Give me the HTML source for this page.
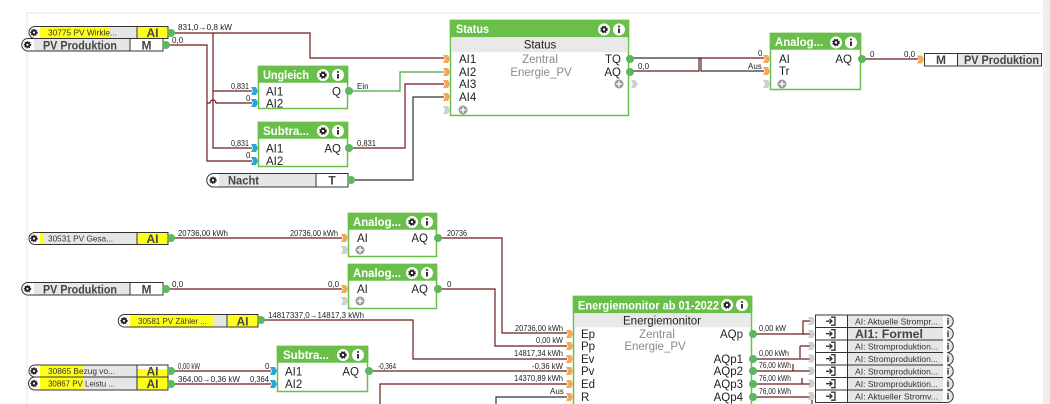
<!DOCTYPE html>
<html><head><meta charset="utf-8">
<style>
html,body{margin:0;padding:0;background:#fff;width:1050px;height:404px;overflow:hidden;}
svg{display:block;overflow:hidden;font-family:"Liberation Sans",Arial,sans-serif;}
.t{font-size:11.5px;fill:#222;}
.h{font-size:12px;font-weight:bold;fill:#fff;}
.w{font-size:8px;fill:#222;}
.g{font-size:11.5px;fill:#8a8a8a;}
.nl{font-size:8.5px;fill:#333;}
.nb{font-size:12px;font-weight:bold;fill:#444;}
.wr{fill:none;stroke:#6e1c1c;stroke-width:1.2;}
.wk{fill:none;stroke:#333;stroke-width:1.2;}
.wg{fill:none;stroke:#3faa3f;stroke-width:1.2;}
.blk{fill:#fff;stroke:#6abf4b;stroke-width:1.5;}
.hd{fill:#6abf4b;}
.dot{fill:#5cb85c;}
.om{fill:#f5a75a;}
.bm{fill:#2aa6d8;}
.gm{fill:#cfcfcf;}
</style></head>
<body>
<svg width="1050" height="404" viewBox="0 0 1050 404" xmlns="http://www.w3.org/2000/svg">
<defs>
  <g id="gearW"><circle r="6" fill="#fff"/><circle r="3" fill="#222" stroke="#222" stroke-width="1.6" stroke-dasharray="1.3 1.1"/><circle r="1.2" fill="#fff"/></g>
  <g id="infoW"><circle r="6" fill="#fff"/><rect x="-0.9" y="-1" width="1.8" height="4.5" fill="#222"/><circle cy="-3" r="1" fill="#222"/></g>
  <g id="gearS"><circle r="3" fill="#222" stroke="#222" stroke-width="1.4" stroke-dasharray="1.2 1"/><circle r="1.1" fill="#fff"/></g>
  <g id="plus"><circle r="4.5" fill="#9a9a9a"/><rect x="-2.8" y="-0.7" width="5.6" height="1.4" fill="#fff"/><rect x="-0.7" y="-2.8" width="1.4" height="5.6" fill="#fff"/></g>
  <polygon id="inm" points="-7,-4 -2,-4 0,0 -2,4 -7,4 -5,0"/>
  <g id="enter"><path d="M-1,-4 h4 v8 h-4" fill="none" stroke="#333" stroke-width="1.3"/><path d="M-6,0 h6 M-2.5,-2.5 l2.5,2.5 l-2.5,2.5" fill="none" stroke="#333" stroke-width="1.3"/></g>
</defs>

<!-- background border -->
<line x1="27" y1="13" x2="1043" y2="13" stroke="#d0d0d0" stroke-width="1" stroke-dasharray="1 1"/>
<line x1="27" y1="13" x2="27" y2="404" stroke="#d0d0d0" stroke-width="1" stroke-dasharray="1 1"/>
<rect x="1043" y="0" width="7" height="404" fill="#eeeeee"/>

<!-- ===== WIRES TOP ===== -->
<path class="wr" d="M172 33 H310 V58 H444"/>
<path class="wr" d="M213 33 V148 H252 M213 91 H252"/>
<path class="wr" d="M167 45 H207 V161 H252 M207 103 H210 A3 3 0 0 1 216 103 H252"/>
<path class="wg" d="M352 91 H400 V72 H444"/>
<path class="wr" d="M352 148 H405 V84 H444"/>
<path class="wk" d="M354 180 H413 V97 H444"/>
<path class="wk" d="M633 58 H701 V71 H764"/>
<path class="wr" d="M633 71 H699 V58 H764"/>
<path class="wr" d="M865 59 H918"/>

<!-- ===== WIRES BOTTOM ===== -->
<path class="wr" d="M172 238 H342"/>
<path class="wr" d="M167 289 H342"/>
<path class="wr" d="M262 320 H413 V359 H567"/>
<path class="wr" d="M441 238 H502 V333 H567"/>
<path class="wr" d="M441 289 H495 V346 H567"/>
<path class="wr" d="M172 371 H271"/>
<path class="wr" d="M172 384 H271"/>
<path class="wr" d="M372 371 H567"/>
<path class="wr" d="M380 404 V384 H567"/>
<path class="wk" d="M496 404 V397 H567"/>
<!-- outputs to right nodes -->
<path class="wr" d="M756 334 H810 M803 334 V321 H810"/>
<path class="wr" d="M800 346 H810 M800 346 V358"/>
<path class="wr" d="M756 359 H810"/>
<path class="wr" d="M756 371 H793 V364 M793 371 H810"/>
<path class="wr" d="M756 384 H810 M802 384 V378"/>
<path class="wr" d="M756 397 H810 M812 396 V404"/>

<!-- ===== WIRE LABELS ===== -->
<text class="w" x="178" y="30" textLength="54" lengthAdjust="spacingAndGlyphs">831,0→0,8 kW</text>
<text class="w" x="172" y="43">0,0</text>
<text class="w" x="231" y="89" textLength="18" lengthAdjust="spacingAndGlyphs">0,831</text>
<text class="w" x="246" y="101">0</text>
<text class="w" x="231" y="146" textLength="18" lengthAdjust="spacingAndGlyphs">0,831</text>
<text class="w" x="246" y="158">0</text>
<text class="w" x="357" y="89">Ein</text>
<text class="w" x="357" y="146" textLength="19" lengthAdjust="spacingAndGlyphs">0,831</text>
<text class="w" x="638" y="69">0,0</text>
<text class="w" x="758" y="56">0</text>
<text class="w" x="748" y="69">Aus</text>
<text class="w" x="870" y="57">0</text>
<text class="w" x="904" y="57">0,0</text>

<text class="w" x="178" y="236" textLength="50" lengthAdjust="spacingAndGlyphs">20736,00 kWh</text>
<text class="w" x="290" y="236" textLength="48" lengthAdjust="spacingAndGlyphs">20736,00 kWh</text>
<text class="w" x="447" y="236" textLength="20" lengthAdjust="spacingAndGlyphs">20736</text>
<text class="w" x="172" y="287">0,0</text>
<text class="w" x="328" y="287">0,0</text>
<text class="w" x="447" y="287">0</text>
<text class="w" x="268" y="318" textLength="96" lengthAdjust="spacingAndGlyphs">14817337,0→14817,3 kWh</text>
<text class="w" x="178" y="369" textLength="22" lengthAdjust="spacingAndGlyphs">0,00 kW</text>
<text class="w" x="265" y="369">0</text>
<text class="w" x="178" y="382" textLength="62" lengthAdjust="spacingAndGlyphs">364,00→0,36 kW</text>
<text class="w" x="250" y="382" textLength="19" lengthAdjust="spacingAndGlyphs">0,364</text>
<text class="w" x="378" y="369" textLength="18" lengthAdjust="spacingAndGlyphs">-0,364</text>
<text class="w" x="515" y="331" textLength="48" lengthAdjust="spacingAndGlyphs">20736,00 kWh</text>
<text class="w" x="536" y="343" textLength="27" lengthAdjust="spacingAndGlyphs">0,00 kW</text>
<text class="w" x="514" y="356" textLength="49" lengthAdjust="spacingAndGlyphs">14817,34 kWh</text>
<text class="w" x="532" y="369" textLength="31" lengthAdjust="spacingAndGlyphs">-0,36 kW</text>
<text class="w" x="514" y="381" textLength="49" lengthAdjust="spacingAndGlyphs">14370,89 kWh</text>
<text class="w" x="550" y="394">Aus</text>
<text class="w" x="759" y="331" textLength="27" lengthAdjust="spacingAndGlyphs">0,00 kW</text>
<text class="w" x="759" y="356" textLength="30" lengthAdjust="spacingAndGlyphs">0,00 kWh</text>
<text class="w" x="759" y="368" textLength="32" lengthAdjust="spacingAndGlyphs">76,00 kWh</text>
<text class="w" x="759" y="381" textLength="32" lengthAdjust="spacingAndGlyphs">76,00 kWh</text>
<text class="w" x="759" y="394" textLength="32" lengthAdjust="spacingAndGlyphs">76,00 kWh</text>

<!-- ===== LEFT NODES ===== -->
<!-- 30775 -->
<path d="M35 26.5 H168 V38.5 H35 A6 6 0 0 1 35 26.5 Z" fill="#fff" stroke="#333"/>
<rect x="40" y="27" width="97" height="11" fill="#e6e6e6"/>
<rect x="40" y="27" width="70" height="11" fill="#ffff1a"/>
<rect x="137" y="26.5" width="31" height="12" fill="#ffff1a" stroke="#333"/>
<use href="#gearS" x="34" y="32.5"/>
<text class="nl" x="48" y="35.5" textLength="69" lengthAdjust="spacingAndGlyphs">30775  PV  Wirkle...</text>
<text class="nb" x="152.5" y="37" text-anchor="middle">AI</text>
<circle class="dot" cx="171" cy="33" r="4"/>
<!-- PV Produktion M -->
<path d="M28 38.5 H163 V51 H28 A6.25 6.25 0 0 1 28 38.5 Z" fill="#fff" stroke="#333"/>
<rect x="34" y="39" width="96" height="11.5" fill="#e6e6e6"/>
<rect x="130" y="38.5" width="33" height="12.5" fill="#fff" stroke="#333"/>
<use href="#gearS" x="27.5" y="44.8"/>
<text class="nb" x="43" y="49.3" textLength="74" lengthAdjust="spacingAndGlyphs">PV Produktion</text>
<text class="nb" x="146.5" y="49.3" text-anchor="middle">M</text>
<circle class="dot" cx="166" cy="45" r="4"/>
<!-- Nacht T -->
<path d="M213.5 173.5 H348 V187 H213.5 A6.75 6.75 0 0 1 213.5 173.5 Z" fill="#fff" stroke="#333"/>
<rect x="219" y="174" width="97" height="12.5" fill="#e6e6e6"/>
<rect x="316" y="173.5" width="32" height="13.5" fill="#fff" stroke="#333"/>
<use href="#gearS" x="213" y="180.2"/>
<text class="nb" x="228" y="184.6" textLength="31" lengthAdjust="spacingAndGlyphs">Nacht</text>
<text class="nb" x="332" y="184.6" text-anchor="middle">T</text>
<circle class="dot" cx="351" cy="180" r="4"/>

<!-- 30531 -->
<path d="M35 232.5 H168 V244.5 H35 A6 6 0 0 1 35 232.5 Z" fill="#fff" stroke="#333"/>
<rect x="40" y="233" width="97" height="11" fill="#e6e6e6"/>
<rect x="40" y="233" width="3" height="11" fill="#ffff1a"/>
<rect x="137" y="232.5" width="31" height="12" fill="#ffff1a" stroke="#333"/>
<use href="#gearS" x="34" y="238.5"/>
<text class="nl" x="48" y="241.5" textLength="65" lengthAdjust="spacingAndGlyphs">30531  PV  Gesa...</text>
<text class="nb" x="152.5" y="243" text-anchor="middle">AI</text>
<circle class="dot" cx="171" cy="238" r="4"/>
<!-- PV Produktion M bottom -->
<path d="M28 282.5 H163 V295 H28 A6.25 6.25 0 0 1 28 282.5 Z" fill="#fff" stroke="#333"/>
<rect x="34" y="283" width="96" height="11.5" fill="#e6e6e6"/>
<rect x="130" y="282.5" width="33" height="12.5" fill="#fff" stroke="#333"/>
<use href="#gearS" x="27.5" y="288.8"/>
<text class="nb" x="43" y="293.3" textLength="74" lengthAdjust="spacingAndGlyphs">PV Produktion</text>
<text class="nb" x="146.5" y="293.3" text-anchor="middle">M</text>
<circle class="dot" cx="166" cy="289" r="4"/>
<!-- 30581 -->
<path d="M124.5 314.5 H258 V327 H124.5 A6.25 6.25 0 0 1 124.5 314.5 Z" fill="#fff" stroke="#333"/>
<rect x="130" y="315" width="97" height="11.5" fill="#e6e6e6"/>
<rect x="130" y="315" width="83" height="11.5" fill="#ffff1a"/>
<rect x="227" y="314.5" width="31" height="12.5" fill="#ffff1a" stroke="#333"/>
<use href="#gearS" x="124" y="320.8"/>
<text class="nl" x="138" y="323.8" textLength="69" lengthAdjust="spacingAndGlyphs">30581  PV  Zähler ...</text>
<text class="nb" x="242.5" y="325.3" text-anchor="middle">AI</text>
<circle class="dot" cx="261" cy="320" r="4"/>
<!-- 30865 -->
<path d="M35 365 H168 V377 H35 A6 6 0 0 1 35 365 Z" fill="#fff" stroke="#333"/>
<rect x="40" y="365.5" width="97" height="11" fill="#e6e6e6"/>
<rect x="40" y="365.5" width="43" height="11" fill="#ffff1a"/>
<rect x="137" y="365" width="31" height="12" fill="#fff" stroke="#333"/>
<rect x="137.5" y="369" width="30" height="7.5" fill="#ffff1a"/>
<use href="#gearS" x="34" y="371"/>
<text class="nl" x="48" y="374" textLength="67" lengthAdjust="spacingAndGlyphs">30865  Bezug  vo...</text>
<text class="nb" x="152.5" y="375.5" text-anchor="middle">AI</text>
<circle class="dot" cx="171" cy="371" r="4"/>
<!-- 30867 -->
<path d="M35 377 H168 V390 H35 A6.5 6.5 0 0 1 35 377 Z" fill="#fff" stroke="#333"/>
<rect x="40" y="377.5" width="97" height="12" fill="#e6e6e6"/>
<rect x="40" y="377.5" width="43" height="12" fill="#ffff1a"/>
<rect x="137" y="377" width="31" height="13" fill="#ffff1a" stroke="#333"/>
<use href="#gearS" x="34" y="383.5"/>
<text class="nl" x="48" y="386.5" textLength="67" lengthAdjust="spacingAndGlyphs">30867  PV  Leistu ...</text>
<text class="nb" x="152.5" y="388" text-anchor="middle">AI</text>
<circle class="dot" cx="171" cy="384" r="4"/>

<!-- ===== BLOCK: Ungleich ===== -->
<rect class="blk" x="258.5" y="66.5" width="89" height="42"/>
<rect class="hd" x="257.75" y="65.75" width="90.5" height="17"/>
<text class="h" x="263" y="79" textLength="46" lengthAdjust="spacingAndGlyphs">Ungleich</text>
<use href="#gearW" x="323" y="75"/><use href="#infoW" x="338" y="75"/>
<use href="#inm" class="bm" x="258" y="91"/><use href="#inm" class="bm" x="258" y="103"/>
<text class="t" x="266" y="95.5">AI1</text><text class="t" x="266" y="107.5">AI2</text>
<text class="t" x="341" y="95.5" text-anchor="end">Q</text>
<circle class="dot" cx="349" cy="91" r="4"/>

<!-- ===== BLOCK: Subtra top ===== -->
<rect class="blk" x="258.5" y="122.5" width="89" height="44"/>
<rect class="hd" x="257.75" y="121.75" width="90.5" height="17"/>
<text class="h" x="263" y="135" textLength="46" lengthAdjust="spacingAndGlyphs">Subtra...</text>
<use href="#gearW" x="323" y="131"/><use href="#infoW" x="338" y="131"/>
<use href="#inm" class="bm" x="258" y="148"/><use href="#inm" class="bm" x="258" y="161"/>
<text class="t" x="266" y="152.5">AI1</text><text class="t" x="266" y="165">AI2</text>
<text class="t" x="341" y="152.5" text-anchor="end">AQ</text>
<circle class="dot" cx="349" cy="148" r="4"/>

<!-- ===== BLOCK: Status ===== -->
<rect class="blk" x="450.5" y="20.5" width="178" height="95"/>
<rect class="hd" x="449.75" y="19.75" width="179.5" height="17.5"/>
<text class="h" x="456" y="33" textLength="33" lengthAdjust="spacingAndGlyphs">Status</text>
<use href="#gearW" x="604" y="29.5"/><use href="#infoW" x="619" y="29.5"/>
<rect x="451.25" y="37.25" width="176.5" height="15" fill="#e9e9e9"/>
<text class="t" x="540" y="48.5" text-anchor="middle">Status</text>
<use href="#inm" class="om" x="450" y="59"/><use href="#inm" class="om" x="450" y="72"/>
<use href="#inm" class="om" x="450" y="84"/><use href="#inm" class="om" x="450" y="97"/>
<use href="#inm" class="gm" x="450" y="110"/>
<text class="t" x="459" y="63">AI1</text><text class="t" x="459" y="76">AI2</text>
<text class="t" x="459" y="88">AI3</text><text class="t" x="459" y="101">AI4</text>
<use href="#plus" x="463" y="110"/>
<text class="g" x="540" y="63" text-anchor="middle">Zentral</text>
<text class="g" x="541" y="76" text-anchor="middle">Energie_PV</text>
<text class="t" x="621" y="63" text-anchor="end">TQ</text>
<text class="t" x="621" y="76" text-anchor="end">AQ</text>
<circle class="dot" cx="630" cy="59" r="4"/><circle class="dot" cx="630" cy="72" r="4"/>
<use href="#plus" x="619" y="84"/>
<polygon class="gm" points="631,80 635,80 638,84 635,88 631,88 633,84"/>

<!-- ===== BLOCK: Analog top right ===== -->
<rect class="blk" x="770.5" y="33.5" width="90" height="56"/>
<rect class="hd" x="769.75" y="32.75" width="91.5" height="17"/>
<text class="h" x="775" y="46" textLength="48" lengthAdjust="spacingAndGlyphs">Analog...</text>
<use href="#gearW" x="836" y="42.5"/><use href="#infoW" x="851" y="42.5"/>
<use href="#inm" class="om" x="770" y="59"/><use href="#inm" class="om" x="770" y="71"/>
<use href="#inm" class="gm" x="770" y="84"/>
<text class="t" x="779" y="63">AI</text><text class="t" x="779" y="75">Tr</text>
<use href="#plus" x="782" y="84"/>
<text class="t" x="852" y="63" text-anchor="end">AQ</text>
<circle class="dot" cx="862" cy="59" r="4"/>
<!-- output node M PV Produktion -->
<use href="#inm" class="om" x="924" y="59.5"/>
<rect x="924.5" y="53.5" width="117" height="12.5" fill="#e6e6e6" stroke="#333"/>
<rect x="924.5" y="53.5" width="33" height="12.5" fill="#fff" stroke="#333"/>
<text class="nb" x="941" y="64" text-anchor="middle">M</text>
<text class="nb" x="964" y="64" textLength="75" lengthAdjust="spacingAndGlyphs">PV Produktion</text>

<!-- ===== BLOCK: Analog bottom 1 ===== -->
<rect class="blk" x="348.5" y="213.5" width="88" height="43"/>
<rect class="hd" x="347.75" y="212.75" width="89.5" height="17"/>
<text class="h" x="353" y="226" textLength="48" lengthAdjust="spacingAndGlyphs">Analog...</text>
<use href="#gearW" x="412" y="222"/><use href="#infoW" x="427" y="222"/>
<use href="#inm" class="om" x="348" y="238"/><use href="#inm" class="gm" x="348" y="250"/>
<text class="t" x="357" y="242">AI</text>
<use href="#plus" x="360" y="250"/>
<text class="t" x="428" y="242" text-anchor="end">AQ</text>
<circle class="dot" cx="438" cy="238" r="4"/>

<!-- ===== BLOCK: Analog bottom 2 ===== -->
<rect class="blk" x="348.5" y="264.5" width="88" height="44"/>
<rect class="hd" x="347.75" y="263.75" width="89.5" height="17"/>
<text class="h" x="353" y="277" textLength="48" lengthAdjust="spacingAndGlyphs">Analog...</text>
<use href="#gearW" x="412" y="273"/><use href="#infoW" x="427" y="273"/>
<use href="#inm" class="om" x="348" y="289"/><use href="#inm" class="gm" x="348" y="301"/>
<text class="t" x="357" y="293">AI</text>
<use href="#plus" x="360" y="301"/>
<text class="t" x="428" y="293" text-anchor="end">AQ</text>
<circle class="dot" cx="438" cy="289" r="4"/>

<!-- ===== BLOCK: Subtra bottom ===== -->
<rect class="blk" x="277.5" y="346.5" width="90" height="45"/>
<rect class="hd" x="276.75" y="345.75" width="91.5" height="17"/>
<text class="h" x="283" y="359" textLength="46" lengthAdjust="spacingAndGlyphs">Subtra...</text>
<use href="#gearW" x="343" y="355"/><use href="#infoW" x="358" y="355"/>
<use href="#inm" class="bm" x="277" y="371"/><use href="#inm" class="bm" x="277" y="384"/>
<text class="t" x="285" y="375.5">AI1</text><text class="t" x="285" y="388">AI2</text>
<text class="t" x="359" y="375.5" text-anchor="end">AQ</text>
<circle class="dot" cx="369" cy="371" r="4"/>

<!-- ===== BLOCK: Energiemonitor ===== -->
<rect class="blk" x="573.5" y="296.5" width="178" height="120"/>
<rect class="hd" x="572.75" y="295.75" width="179.5" height="17.5"/>
<text class="h" x="578" y="309.5" textLength="141" lengthAdjust="spacingAndGlyphs">Energiemonitor ab 01-2022</text>
<use href="#gearW" x="727" y="305"/><use href="#infoW" x="742" y="305"/>
<rect x="574.25" y="313.25" width="176.5" height="14" fill="#e9e9e9"/>
<text class="t" x="662" y="324.5" text-anchor="middle">Energiemonitor</text>
<use href="#inm" class="om" x="573" y="334"/><use href="#inm" class="om" x="573" y="346"/>
<use href="#inm" class="om" x="573" y="359"/><use href="#inm" class="om" x="573" y="371"/>
<use href="#inm" class="om" x="573" y="384"/><use href="#inm" class="om" x="573" y="397"/>
<text class="t" x="581" y="338">Ep</text><text class="t" x="581" y="350">Pp</text>
<text class="t" x="581" y="363">Ev</text><text class="t" x="581" y="375">Pv</text>
<text class="t" x="581" y="388">Ed</text><text class="t" x="581" y="401">R</text>
<text class="g" x="657" y="338" text-anchor="middle">Zentral</text>
<text class="g" x="655" y="350" text-anchor="middle">Energie_PV</text>
<text class="t" x="743" y="338" text-anchor="end">AQp</text>
<text class="t" x="743" y="363" text-anchor="end">AQp1</text>
<text class="t" x="743" y="375" text-anchor="end">AQp2</text>
<text class="t" x="743" y="388" text-anchor="end">AQp3</text>
<text class="t" x="743" y="401" text-anchor="end">AQp4</text>
<circle class="dot" cx="753" cy="334" r="4"/><circle class="dot" cx="753" cy="359" r="4"/>
<circle class="dot" cx="753" cy="371" r="4"/><circle class="dot" cx="753" cy="384" r="4"/>
<circle class="dot" cx="753" cy="397" r="4"/>

<!-- ===== RIGHT OUTPUT NODES ===== -->
<g>
  <use href="#inm" class="gm" x="815" y="321"/><use href="#inm" class="gm" x="815" y="334"/>
  <use href="#inm" class="gm" x="815" y="346"/><use href="#inm" class="gm" x="815" y="358.5"/>
  <use href="#inm" class="gm" x="815" y="371"/><use href="#inm" class="gm" x="815" y="383.5"/>
  <use href="#inm" class="gm" x="815" y="396"/>
</g>
<g stroke="#333" stroke-width="1">
  <path d="M815.5 315 H947 A6.25 6.25 0 0 1 947 327.5 H815.5 Z" fill="#e6e6e6"/>
  <path d="M815.5 327.5 H947 A6.25 6.25 0 0 1 947 340 H815.5 Z" fill="#e6e6e6"/>
  <path d="M815.5 340 H947 A6.25 6.25 0 0 1 947 352.5 H815.5 Z" fill="#e6e6e6"/>
  <path d="M815.5 352.5 H947 A6.25 6.25 0 0 1 947 365 H815.5 Z" fill="#e6e6e6"/>
  <path d="M815.5 365 H947 A6.25 6.25 0 0 1 947 377.5 H815.5 Z" fill="#e6e6e6"/>
  <path d="M815.5 377.5 H947 A6.25 6.25 0 0 1 947 390 H815.5 Z" fill="#e6e6e6"/>
  <path d="M815.5 390 H947 A6.25 6.25 0 0 1 947 402.5 H815.5 Z" fill="#e6e6e6"/>
  <rect x="815.5" y="315" width="32" height="12.5" fill="#fff"/>
  <rect x="815.5" y="327.5" width="32" height="12.5" fill="#fff"/>
  <rect x="815.5" y="340" width="32" height="12.5" fill="#fff"/>
  <rect x="815.5" y="352.5" width="32" height="12.5" fill="#fff"/>
  <rect x="815.5" y="365" width="32" height="12.5" fill="#fff"/>
  <rect x="815.5" y="377.5" width="32" height="12.5" fill="#fff"/>
  <rect x="815.5" y="390" width="32" height="12.5" fill="#fff"/>
</g>
<rect x="943" y="315.5" width="4" height="86.5" fill="#fff"/>
<use href="#enter" x="832" y="321.2"/><use href="#enter" x="832" y="333.7"/>
<use href="#enter" x="832" y="346.2"/><use href="#enter" x="832" y="358.7"/>
<use href="#enter" x="832" y="371.2"/><use href="#enter" x="832" y="383.7"/>
<use href="#enter" x="832" y="396.2"/>
<text class="nl" x="855" y="324.5" textLength="83" lengthAdjust="spacingAndGlyphs">AI:  Aktuelle  Strompr...</text>
<text class="nb" x="855" y="338" textLength="68" lengthAdjust="spacingAndGlyphs">AI1: Formel</text>
<text class="nl" x="855" y="349.5" textLength="83" lengthAdjust="spacingAndGlyphs">AI:  Stromproduktion...</text>
<text class="nl" x="855" y="362" textLength="83" lengthAdjust="spacingAndGlyphs">AI:  Stromproduktion...</text>
<text class="nl" x="855" y="374.5" textLength="83" lengthAdjust="spacingAndGlyphs">AI:  Stromproduktion...</text>
<text class="nl" x="855" y="387" textLength="83" lengthAdjust="spacingAndGlyphs">AI:  Stromproduktion...</text>
<text class="nl" x="855" y="399.5" textLength="83" lengthAdjust="spacingAndGlyphs">AI:  Aktueller  Stromv...</text>
<g font-size="9" font-weight="bold" fill="#222" text-anchor="middle">
  <text x="948" y="324.5">i</text><text x="948" y="337">i</text><text x="948" y="349.5">i</text>
  <text x="948" y="362">i</text><text x="948" y="374.5">i</text><text x="948" y="387">i</text>
  <text x="948" y="399.5">i</text>
</g>
</svg>
</body></html>
